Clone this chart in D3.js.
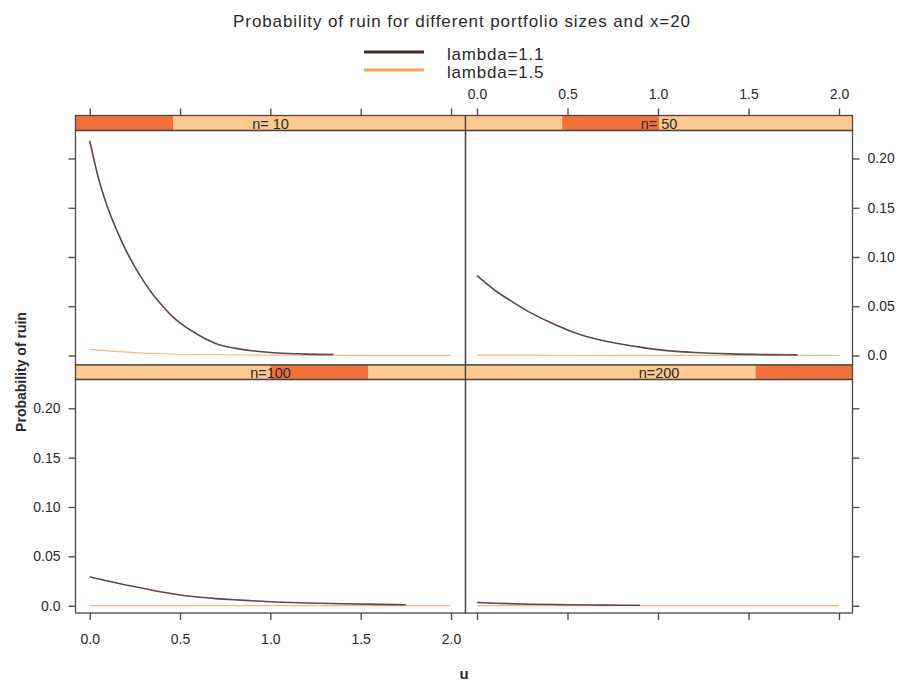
<!DOCTYPE html>
<html>
<head>
<meta charset="utf-8">
<script src="https://cdn.jsdelivr.net/npm/d3@7/dist/d3.min.js"></script>
<style>
  html, body { margin: 0; padding: 0; background: #ffffff; }
  svg { display: block; font-family: Arial, "Liberation Sans", Helvetica, sans-serif; }
</style>
</head>
<body>
<svg id="chart" width="902" height="684"></svg>
<script>
// Portfolio sizes, one panel each
const portfolioSizes = [10, 50, 100, 200];
const lambdaLabels = ["lambda=1.1", "lambda=1.5"];
const xTicks = [0, 0.5, 1.0, 1.5, 2.0];
const yTicks = [0, 0.05, 0.10, 0.15, 0.20];

// Probability of ruin against u, lambda = 1.1
const uN10L11 = [0, 0.05, 0.1, 0.15, 0.2, 0.25, 0.3, 0.35, 0.4, 0.45, 0.5, 0.6, 0.7, 0.8, 0.9, 1.0, 1.1, 1.2, 1.35];
const pN10L11 = [0.218, 0.179, 0.150, 0.127, 0.107, 0.090, 0.075, 0.062, 0.051, 0.041, 0.033, 0.021, 0.012, 0.0075, 0.0048, 0.003, 0.002, 0.0014, 0.001];
const uN50L11 = [0, 0.1, 0.2, 0.3, 0.4, 0.5, 0.6, 0.7, 0.8, 0.9, 1.0, 1.1, 1.2, 1.4, 1.6, 1.77];
const pN50L11 = [0.081, 0.066, 0.054, 0.043, 0.034, 0.026, 0.0195, 0.015, 0.0115, 0.0085, 0.006, 0.0042, 0.003, 0.0016, 0.0009, 0.0006];
const uN100L11 = [0, 0.1, 0.2, 0.3, 0.4, 0.5, 0.6, 0.7, 0.8, 0.9, 1.0, 1.2, 1.4, 1.6, 1.75];
const pN100L11 = [0.0294, 0.025, 0.021, 0.0175, 0.0138, 0.0109, 0.0088, 0.0072, 0.006, 0.005, 0.004, 0.0028, 0.0019, 0.0013, 0.001];
const uN200L11 = [0, 0.1, 0.3, 0.5, 0.7, 0.9];
const pN200L11 = [0.0032, 0.0025, 0.0015, 0.001, 0.0006, 0.0004];

// Probability of ruin against u, lambda = 1.5
const uN10L15 = [0, 0.2, 0.4, 0.6, 1.0, 1.5, 2.0];
const pN10L15 = [0.0063, 0.0035, 0.0018, 0.001, 0.0004, 0.0002, 0.0001];
const uN50L15 = [0, 1.0, 2.0];
const pN50L15 = [0.0004, 0.0001, 0.0];
const uN100L15 = [0, 1.0, 2.0];
const pN100L15 = [0.0001, 0.0, 0.0];
const uN200L15 = [0, 1.0, 2.0];
const pN200L15 = [0.0, 0.0, 0.0];

const zip = (u, p) => u.map((d, i) => ({ u: d, p: p[i] }));
const series = [
  [zip(uN10L11, pN10L11), zip(uN10L15, pN10L15)],
  [zip(uN50L11, pN50L11), zip(uN50L15, pN50L15)],
  [zip(uN100L11, pN100L11), zip(uN100L15, pN100L15)],
  [zip(uN200L11, pN200L11), zip(uN200L15, pN200L15)]
];

const lineColors = ["#4a2828", "#ffa060"];
const panelLineColors = ["#5e4652", "#f6b487"];
const stripBg = "#fcc98e";
const stripLevel = "#f07238";
const frame = "#4b4545";
const textColor = "#2a2a2a";

const svg = d3.select("#chart");

// Layout: two columns, two rows, each panel with a strip on top
const cols = [{ x0: 75.5, x1: 465.5, t0: 89.7, t2: 451 }, { x0: 465.5, x1: 852.5, t0: 477, t2: 839 }];
const rows = [
  { s0: 115.5, s1: 130.5, y0: 130.5, y1: 365, zero: 355.5, top: 158.5 },
  { s0: 365, s1: 379.5, y0: 379.5, y1: 613, zero: 605.7, top: 408.3 }
];
// panel index -> [col, row]
const place = [[0, 0], [1, 0], [0, 1], [1, 1]];

const xScales = cols.map(c => d3.scaleLinear().domain([0, 2]).range([c.t0, c.t2]));
const yScales = rows.map(r => d3.scaleLinear().domain([0, 0.20]).range([r.zero, r.top]));

const fmtX = d => d3.format(".1f")(d);
const fmtY = d => d === 0 ? "0.0" : d3.format(".2f")(d);

// Title
svg.append("text")
  .attr("x", 462).attr("y", 27)
  .attr("text-anchor", "middle")
  .attr("font-size", 17).attr("letter-spacing", 0.9).attr("fill", textColor)
  .text("Probability of ruin for different portfolio sizes and x=20");

// Legend
const legend = svg.append("g");
lambdaLabels.forEach((lab, i) => {
  const y = 52 + i * 18;
  legend.append("line")
    .attr("x1", 364).attr("x2", 424).attr("y1", y).attr("y2", y)
    .attr("stroke", lineColors[i]).attr("stroke-width", 3.2);
  legend.append("text")
    .attr("x", 447).attr("y", y + 8)
    .attr("font-size", 17).attr("letter-spacing", 0.8).attr("fill", textColor)
    .text(lab);
});

portfolioSizes.forEach((n, k) => {
  const [ci, ri] = place[k];
  const c = cols[ci], r = rows[ri];
  const x = xScales[ci], y = yScales[ri];
  const g = svg.append("g");

  // Strip with level indicator
  const sw = (c.x1 - c.x0) / portfolioSizes.length;
  g.append("rect")
    .attr("x", c.x0).attr("y", r.s0).attr("width", c.x1 - c.x0).attr("height", r.s1 - r.s0)
    .attr("fill", stripBg);
  g.append("rect")
    .attr("x", c.x0 + k * sw).attr("y", r.s0).attr("width", sw).attr("height", r.s1 - r.s0)
    .attr("fill", stripLevel);
  g.append("rect")
    .attr("x", c.x0).attr("y", r.s0).attr("width", c.x1 - c.x0).attr("height", r.s1 - r.s0)
    .attr("fill", "none").attr("stroke", frame).attr("stroke-width", 1.3);
  g.append("text")
    .attr("x", (c.x0 + c.x1) / 2).attr("y", r.s1 - 2)
    .attr("text-anchor", "middle")
    .attr("font-size", 14.5).attr("fill", textColor)
    .text(n >= 100 ? "n=" + n : "n= " + n);

  // Curves: lambda=1.5 first, lambda=1.1 on top
  const clipId = "clip" + k;
  g.append("clipPath").attr("id", clipId)
    .append("rect").attr("x", c.x0).attr("y", r.y0).attr("width", c.x1 - c.x0).attr("height", r.y1 - r.y0);
  const line = d3.line().x(d => x(d.u)).y(d => y(d.p)).curve(d3.curveMonotoneX);
  [1, 0].forEach(j => {
    g.append("path")
      .attr("clip-path", `url(#${clipId})`)
      .attr("d", line(series[k][j]))
      .attr("fill", "none")
      .attr("stroke", panelLineColors[j])
      .attr("stroke-width", j === 0 ? 1.6 : 1.2);
  });

  // Panel frame
  g.append("rect")
    .attr("x", c.x0).attr("y", r.y0).attr("width", c.x1 - c.x0).attr("height", r.y1 - r.y0)
    .attr("fill", "none").attr("stroke", frame).attr("stroke-width", 1.3);

  // Axes on outer sides only; labels alternate between sides
  const styleAxis = (a, showLabels) => {
    a.select(".domain").remove();
    a.selectAll(".tick line").attr("stroke", frame).attr("stroke-width", 1.3);
    a.selectAll(".tick text").attr("fill", textColor).attr("font-size", 14)
      .attr("font-family", "Arial, 'Liberation Sans', sans-serif")
      .style("display", showLabels ? null : "none");
  };
  if (ri === 0) {
    const a = g.append("g").attr("transform", `translate(0,${r.s0})`)
      .call(d3.axisTop(x).tickValues(xTicks).tickFormat(fmtX).tickSize(7).tickPadding(10));
    styleAxis(a, ci === 1);
  } else {
    const a = g.append("g").attr("transform", `translate(0,${r.y1})`)
      .call(d3.axisBottom(x).tickValues(xTicks).tickFormat(fmtX).tickSize(7).tickPadding(14));
    styleAxis(a, ci === 0);
  }
  if (ci === 0) {
    const a = g.append("g").attr("transform", `translate(${c.x0},0)`)
      .call(d3.axisLeft(y).tickValues(yTicks).tickFormat(fmtY).tickSize(7).tickPadding(8));
    styleAxis(a, ri === 1);
  } else {
    const a = g.append("g").attr("transform", `translate(${c.x1},0)`)
      .call(d3.axisRight(y).tickValues(yTicks).tickFormat(fmtY).tickSize(7).tickPadding(8));
    styleAxis(a, ri === 0);
  }
});

// Axis titles
svg.append("text")
  .attr("x", 464).attr("y", 679)
  .attr("text-anchor", "middle")
  .attr("font-size", 15).attr("font-weight", "bold").attr("fill", textColor)
  .text("u");
svg.append("text")
  .attr("transform", "translate(26,372) rotate(-90)")
  .attr("text-anchor", "middle")
  .attr("font-size", 14).attr("font-weight", "bold").attr("fill", textColor)
  .text("Probability of ruin");
</script>
</body>
</html>
